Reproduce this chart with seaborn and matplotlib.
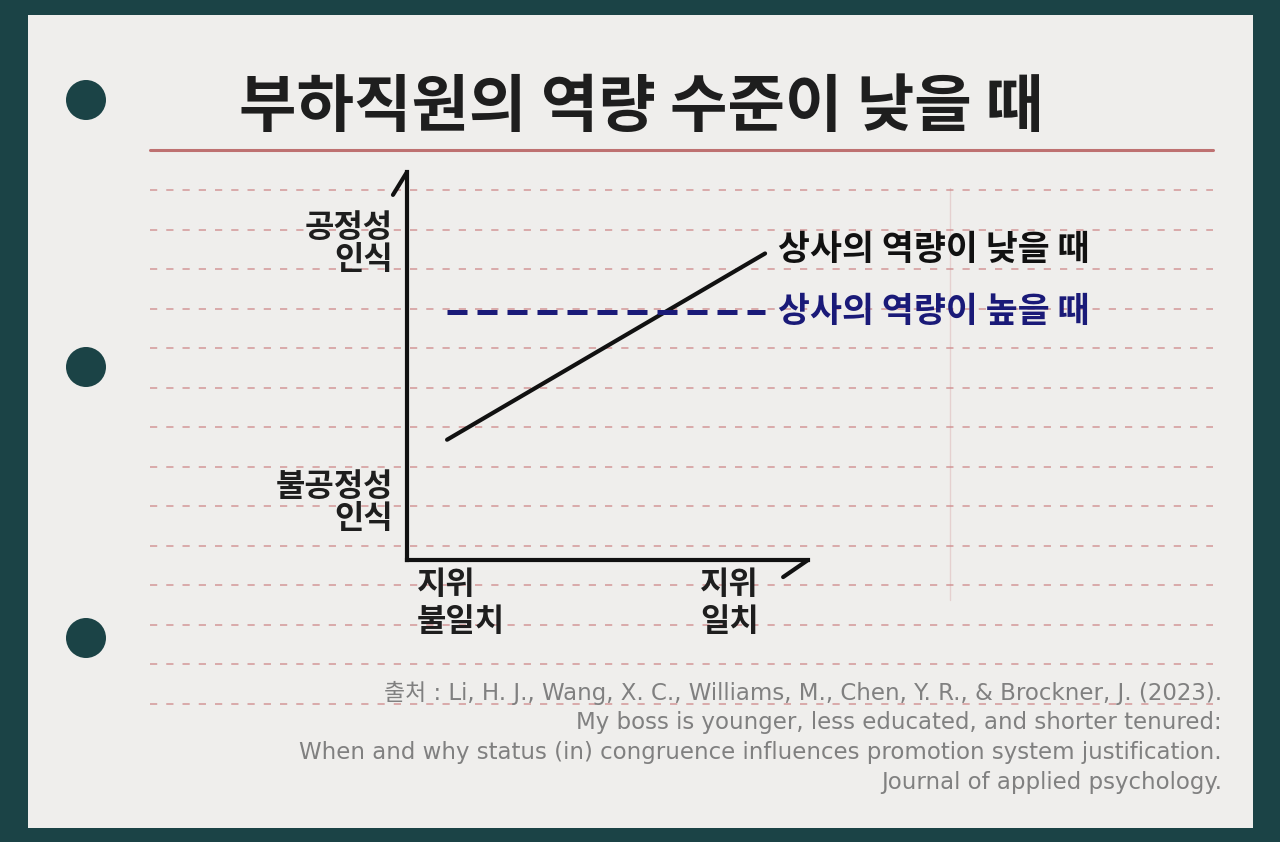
import pandas as pd
import seaborn as sns
import matplotlib.pyplot as plt
from matplotlib.patches import Rectangle, Circle

# data: perceived fairness (0 = unfair, 10 = fair) by status (in)congruence
status = [0, 1]
status_labels = ['지위\n불일치', '지위\n일치']
low_boss = [3.1, 7.9]
high_boss = [6.4, 6.4]
series_names = ['상사의 역량이 낮을 때', '상사의 역량이 높을 때']
y_labels = ['공정성\n인식', '불공정성\n인식']
title = '부하직원의 역량 수준이 낮을 때'
source_lines = [
    '출처 : Li, H. J., Wang, X. C., Williams, M., Chen, Y. R., & Brockner, J. (2023).',
    'My boss is younger, less educated, and shorter tenured:',
    'When and why status (in) congruence influences promotion system justification.',
    'Journal of applied psychology.',
]

df = pd.DataFrame({
    'status': status * 2,
    'fairness': low_boss + high_boss,
    'boss': [series_names[0]] * 2 + [series_names[1]] * 2,
})

sns.set_theme(style='white')
plt.rcParams['font.family'] = ['Noto Sans CJK KR', 'DejaVu Sans']

W, H = 1280, 842
teal = '#1b4346'
paper = '#efeeec'
rule = '#cf8c8c'
navy = '#1a1a78'
ink = '#1e1e1e'

fig = plt.figure(figsize=(12.8, 8.42), dpi=100, facecolor=teal)

# paper background, drawn in pixel coordinates
bg = fig.add_axes([0, 0, 1, 1], zorder=0)
bg.set_xlim(0, W)
bg.set_ylim(H, 0)
bg.axis('off')
bg.add_patch(Rectangle((28, 15), 1225, 813, facecolor=paper, edgecolor='none'))
for cy in [100, 367, 638]:
    bg.add_patch(Circle((86, cy), 20, facecolor=teal, edgecolor='none'))
bg.plot([150, 1213], [150, 150], color='#b96464', lw=2.2, alpha=0.9)
for k in range(14):
    yy = 190 + 39.5 * k
    bg.plot([150, 1213], [yy, yy], color=rule, lw=1.3, ls=(0, (4, 5)), alpha=0.75)
bg.plot([950, 950], [188, 600], color=rule, lw=1.0, alpha=0.3)
bg.text(641, 108, title, ha='center', va='center', fontsize=45,
        fontweight='bold', color=ink)
for i, line in enumerate(source_lines):
    bg.text(1222, 693 + 30 * i, line, ha='right', va='center', fontsize=16.5,
            color='#808080', family=['DejaVu Sans', 'Noto Sans CJK KR'])

# chart axes
ax = fig.add_axes([407 / W, 1 - 560 / H, 401 / W, 388 / H], zorder=1)
ax.patch.set_alpha(0)
sns.lineplot(data=df, x='status', y='fairness', hue='boss', style='boss',
             palette=['#111111', navy], dashes=[(None, None), (4, 2)],
             legend=False, ax=ax)
ax.lines[0].set_linewidth(3.0)
ax.lines[0].set_solid_capstyle('round')
ax.lines[1].set_linewidth(3.6)
ax.lines[1].set_dashes((4, 2))
ax.lines[1].set_dash_capstyle('butt')

ax.set_xlim(-0.126, 1.135)
ax.set_ylim(0, 10)
ax.set_xticks([])
ax.set_yticks([])
ax.set_xlabel('')
ax.set_ylabel('')
for side in ['top', 'right']:
    ax.spines[side].set_visible(False)
for side in ['left', 'bottom']:
    ax.spines[side].set_color('#111111')
    ax.spines[side].set_linewidth(3.0)
    ax.spines[side].set_capstyle('projecting')

# arrow barbs
ax.plot([-0.035, 0], [0.941, 1.0], transform=ax.transAxes, color='#111111',
        lw=3.0, clip_on=False, solid_capstyle='round')
ax.plot([0.938, 1.0], [-0.044, 0], transform=ax.transAxes, color='#111111',
        lw=3.0, clip_on=False, solid_capstyle='round')

# axis labels
ax.text(-0.035, 0.814, y_labels[0], transform=ax.transAxes, ha='right',
        va='center', multialignment='right', fontsize=23, fontweight='bold',
        color=ink, linespacing=1.0)
ax.text(-0.035, 0.147, y_labels[1], transform=ax.transAxes, ha='right',
        va='center', multialignment='right', fontsize=23, fontweight='bold',
        color=ink, linespacing=1.0)
ax.text(0.025, -0.022, status_labels[0], transform=ax.transAxes, ha='left',
        va='top', fontsize=23, fontweight='bold', color=ink,
        linespacing=1.2)
ax.text(0.731, -0.022, status_labels[1], transform=ax.transAxes, ha='left',
        va='top', fontsize=23, fontweight='bold', color=ink,
        linespacing=1.2)

# series labels at line ends
ax.annotate(series_names[0], (status[1], low_boss[1]), xytext=(9, 3),
            textcoords='offset points', ha='left', va='center', fontsize=25,
            fontweight='bold', color='#111111', annotation_clip=False)
ax.annotate(series_names[1], (status[1], high_boss[1]), xytext=(9, 0),
            textcoords='offset points', ha='left', va='center', fontsize=25,
            fontweight='bold', color=navy, annotation_clip=False)

fig.savefig('out.png', dpi=100, facecolor=teal)
